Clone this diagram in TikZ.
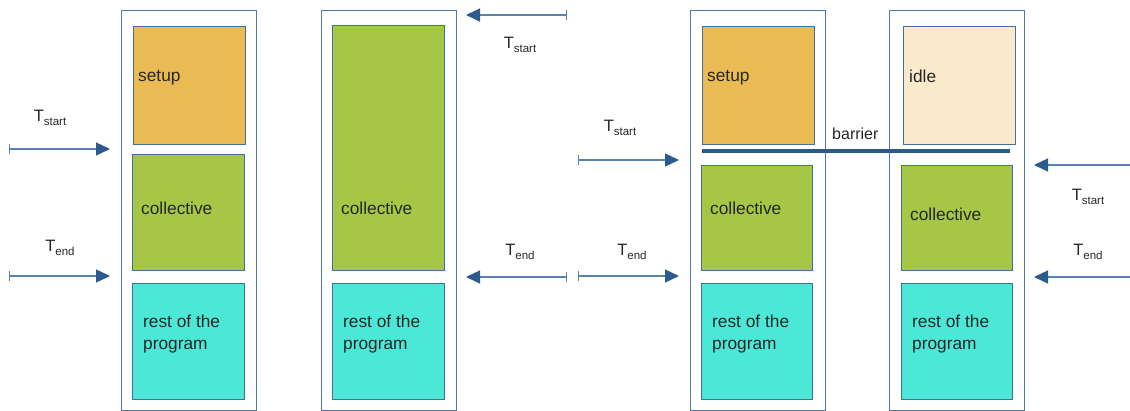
\documentclass[tikz,border=0pt]{standalone}
\usepackage{fontspec}
\setmainfont{Liberation Sans}
\usetikzlibrary{arrows.meta}
\definecolor{cSetup}{RGB}{233,187,82}
\definecolor{cColl}{RGB}{166,199,69}
\definecolor{cRest}{RGB}{75,232,216}
\definecolor{cIdle}{RGB}{249,234,203}
\definecolor{cFrame}{RGB}{80,120,165}
\definecolor{cEdge}{RGB}{65,113,156}
\definecolor{cArrow}{RGB}{45,90,140}
\definecolor{cShaft}{RGB}{90,130,175}
\tikzset{
  frame/.style={draw=cFrame, line width=1.1pt, fill=white, anchor=north west, inner sep=0pt, minimum width=135pt, minimum height=400pt},
  blk/.style={draw=cEdge, line width=0.9pt, anchor=north west, inner sep=0pt},
  lbl/.style={anchor=west, inner sep=0pt, font=\fontsize{17.3}{22.5}\selectfont, text=black!85},
  tlab/.style={inner sep=0pt, text=black!85},
  tarrow/.style={draw=cShaft, line width=1.3pt, {Bar[width=10pt,line width=1pt]}-{Triangle[length=14pt,width=13pt,color=cArrow]}},
  tarrowb/.style={draw=cShaft, line width=1.3pt, -{Triangle[length=14pt,width=13pt,color=cArrow]}},
}
\newcommand{\Tsub}[1]{{\fontsize{16.5}{16}\selectfont T}\raisebox{-3.5pt}{\fontsize{11.5}{12}\selectfont #1}}
\begin{document}
\begin{tikzpicture}[x=1pt,y=-1pt]
\useasboundingbox (0,0) rectangle (1130,411);
% column 1
\node[frame] (f1) at (121,10) {};
\node[blk, fill=cSetup, minimum width=112pt, minimum height=118pt] (s1) at (133,26) {};
\node[blk, fill=cColl, minimum width=112pt, minimum height=116pt] (c1) at (132,154) {};
\node[blk, fill=cRest, minimum width=112pt, minimum height=116pt] (r1) at (132,283) {};
\node[lbl] (s1t) at (138,78) {setup};
\node[lbl] (c1t) at (141,208) {collective};
\node[lbl, align=left] (r1t) at (143,334) {rest of the\\program};
\coordinate (a1s) at (9,149); \coordinate (a1e) at (110,149);
\coordinate (b1s) at (9,276); \coordinate (b1e) at (110,276);
\draw[tarrow] (a1s) -- (a1e);
\draw[tarrow] (b1s) -- (b1e);
\node[tlab] (t1s) at (50,118) {\Tsub{start}};
\node[tlab] (t1e) at (60,248) {\Tsub{end}};
% column 2
\node[frame] (f2) at (321,10) {};
\node[blk, fill=cColl, minimum width=112pt, minimum height=245pt] (c2) at (332,25) {};
\node[blk, fill=cRest, minimum width=112pt, minimum height=116pt] (r2) at (332,283) {};
\node[lbl] (c2t) at (341,208) {collective};
\node[lbl, align=left] (r2t) at (343,334) {rest of the\\program};
\coordinate (a2s) at (567,15); \coordinate (a2e) at (466,15);
\coordinate (b2s) at (567,277); \coordinate (b2e) at (466,277);
\draw[tarrow] (a2s) -- (a2e);
\draw[tarrow] (b2s) -- (b2e);
\node[tlab] (t2s) at (520,45) {\Tsub{start}};
\node[tlab] (t2e) at (520,252) {\Tsub{end}};
% column 3
\node[frame] (f3) at (690,10) {};
\node[blk, fill=cSetup, minimum width=112pt, minimum height=118pt] (s3) at (702,26) {};
\node[blk, fill=cColl, minimum width=111pt, minimum height=105pt] (c3) at (701,165) {};
\node[blk, fill=cRest, minimum width=111pt, minimum height=116pt] (r3) at (701,283) {};
\node[lbl] (s3t) at (707,78) {setup};
\node[lbl] (c3t) at (710,208) {collective};
\node[lbl, align=left] (r3t) at (712,334) {rest of the\\program};
\coordinate (a3s) at (578,160); \coordinate (a3e) at (679,160);
\coordinate (b3s) at (578,276); \coordinate (b3e) at (679,276);
\draw[tarrow] (a3s) -- (a3e);
\draw[tarrow] (b3s) -- (b3e);
\node[tlab] (t3s) at (620,128) {\Tsub{start}};
\node[tlab] (t3e) at (632,252) {\Tsub{end}};
% column 4
\node[frame] (f4) at (889,10) {};
\node[blk, fill=cIdle, minimum width=112pt, minimum height=118pt] (i4) at (903,26) {};
\node[blk, fill=cColl, minimum width=111pt, minimum height=105pt] (c4) at (901,165) {};
\node[blk, fill=cRest, minimum width=111pt, minimum height=116pt] (r4) at (901,283) {};
\node[lbl] (i4t) at (909,76) {idle};
\node[lbl] (c4t) at (910,214) {collective};
\node[lbl, align=left] (r4t) at (912,334) {rest of the\\program};
\coordinate (a4s) at (1131,165); \coordinate (a4e) at (1034,165);
\coordinate (b4s) at (1131,277); \coordinate (b4e) at (1034,277);
\draw[tarrowb] (a4s) -- (a4e);
\draw[tarrowb] (b4s) -- (b4e);
\node[tlab] (t4s) at (1088,197) {\Tsub{start}};
\node[tlab] (t4e) at (1088,252) {\Tsub{end}};
% barrier
\coordinate (bar1) at (702,151); \coordinate (bar2) at (1010,151);
\draw[draw=cArrow, line width=4.5pt] (bar1) -- (bar2);
\node[lbl, font=\fontsize{16}{18}\selectfont] (bt) at (832,134) {barrier};
\end{tikzpicture}
\end{document}
